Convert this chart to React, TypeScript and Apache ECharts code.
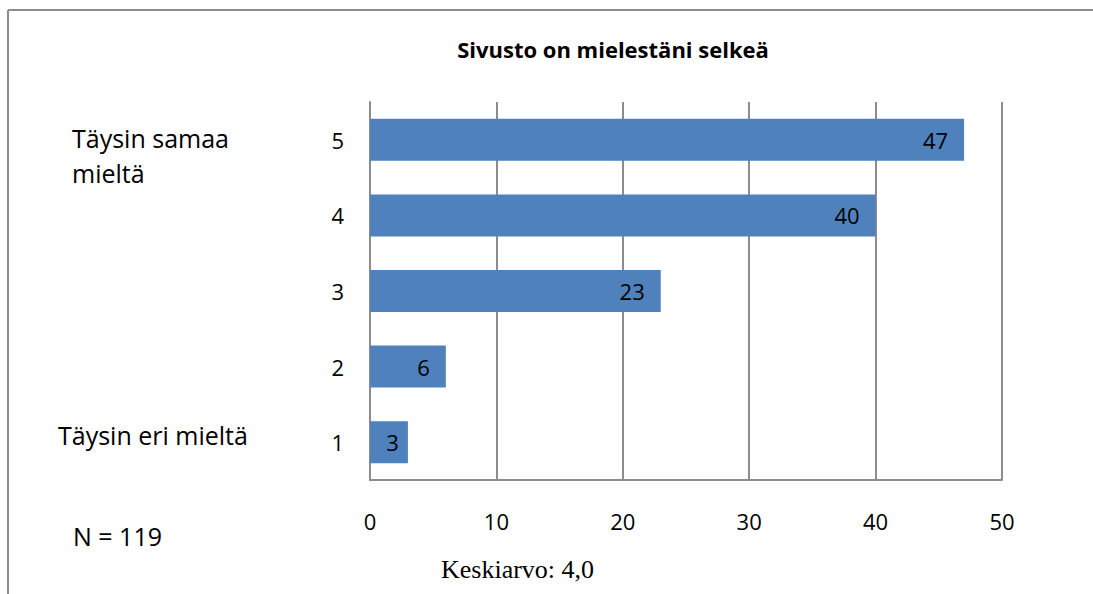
import React, { useEffect, useRef } from "react";
import * as echarts from "echarts";

const categories = ["1", "2", "3", "4", "5"];
const values = [3, 6, 23, 40, 47];
const xTicks = [0, 10, 20, 30, 40, 50];
const titleText = "Sivusto on mielestäni selkeä";
const topLabel = "Täysin samaa\nmieltä";
const bottomLabel = "Täysin eri mieltä";
const nText = "N = 119";
const meanText = "Keskiarvo: 4,0";

export default function App() {
  const ref = useRef<HTMLDivElement>(null);
  useEffect(() => {
    if (!ref.current) return;
    const chart = echarts.init(ref.current, null, { renderer: "svg" });
    const font = "'Open Sans', 'Noto Sans', sans-serif";
    chart.setOption({
      animation: false,
      backgroundColor: "#ffffff",
      title: {
        text: titleText,
        left: 608,
        top: 33,
        textAlign: "center",
        textStyle: { fontFamily: font, fontSize: 22, fontWeight: "bold", color: "#000" },
      },
      grid: { left: 370, right: 91, top: 102, bottom: 114, containLabel: false },
      xAxis: {
        type: "value",
        min: xTicks[0],
        max: xTicks[xTicks.length - 1],
        interval: 10,
        axisLine: { show: true, lineStyle: { color: "#8c8c8c", width: 2 } },
        axisTick: { show: false },
        axisLabel: { fontFamily: font, fontSize: 22, color: "#000", margin: 30 },
        splitLine: { show: true, lineStyle: { color: "#8c8c8c", width: 2 } },
      },
      yAxis: {
        type: "category",
        data: categories,
        axisLine: { show: true, lineStyle: { color: "#8c8c8c", width: 2 } },
        axisTick: { show: false },
        axisLabel: { fontFamily: font, fontSize: 22, color: "#000", margin: 26 },
      },
      series: [
        {
          type: "bar",
          data: values.map((v) => (v < 5 ? { value: v, label: { distance: 9 } } : v)),
          barWidth: 42,
          itemStyle: { color: "#4f81bd" },
          label: {
            show: true,
            position: "insideRight",
            distance: 16,
            fontFamily: font,
            fontSize: 22,
            color: "#000",
          },
        },
      ],
      graphic: [
        { type: "line", shape: { x1: 8, y1: 10, x2: 1093, y2: 10 }, style: { stroke: "#8c8c8c", lineWidth: 2 } },
        { type: "line", shape: { x1: 8, y1: 10, x2: 8, y2: 594 }, style: { stroke: "#8c8c8c", lineWidth: 2 } },
        { type: "text", left: 72, top: 120, style: { text: topLabel, fontFamily: font, fontSize: 25, fill: "#000", lineHeight: 35 } },
        { type: "text", x: 58, y: 435, style: { text: bottomLabel, fontFamily: font, fontSize: 25, fill: "#000", textVerticalAlign: "middle" } },
        { type: "text", x: 73, y: 536, style: { text: nText, fontFamily: font, fontSize: 25, fill: "#000", textVerticalAlign: "middle" } },
        { type: "text", x: 441, y: 569, style: { text: meanText, fontFamily: "'Liberation Serif', 'DejaVu Serif', serif", fontSize: 26, fill: "#000", textVerticalAlign: "middle" } },
      ],
    });
    return () => chart.dispose();
  }, []);
  return <div ref={ref} style={{ position: "absolute", left: 0, top: 0, width: 1093, height: 594 }} />;
}
